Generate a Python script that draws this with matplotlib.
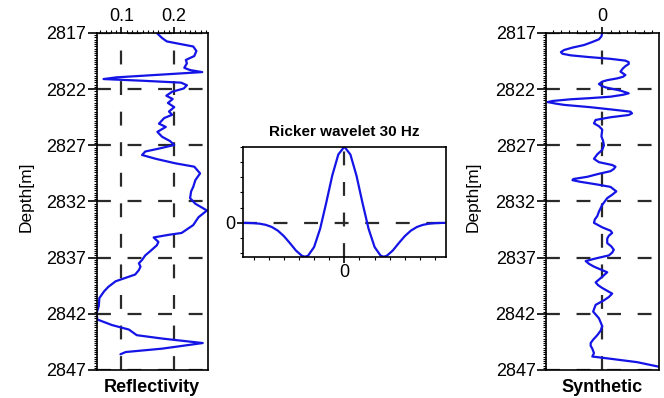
import matplotlib
matplotlib.use("Agg")
import matplotlib.pyplot as plt
from matplotlib.ticker import MultipleLocator, FixedLocator

plt.rcParams['font.family'] = ['Liberation Sans', 'DejaVu Sans']
plt.rcParams['lines.scale_dashes'] = False

# reflectivity log (depth [m], value)
refl_depth = [2817.0, 2817.45, 2817.75, 2817.95, 2818.2, 2818.6, 2819.05, 2819.4, 2819.7, 2820.1,
              2820.3, 2820.48, 2820.7, 2820.95, 2821.1, 2821.25, 2821.42, 2821.65, 2821.94, 2822.23,
              2822.58, 2822.88, 2823.23, 2823.6, 2823.99, 2824.28, 2824.57, 2825.07, 2825.36, 2825.8,
              2826.24, 2826.62, 2826.97, 2827.3, 2827.55, 2827.86, 2828.2, 2828.6, 2828.9, 2829.5,
              2830.1, 2830.7, 2831.1, 2831.7, 2832.2, 2832.8, 2833.4, 2834.1, 2834.8, 2834.97,
              2835.2, 2835.6, 2835.9, 2836.4, 2836.8, 2837.2, 2837.5, 2837.8, 2838.1, 2838.5,
              2839.1, 2839.6, 2840.0, 2840.6, 2841.3, 2841.9, 2842.5, 2843.0, 2843.4, 2843.9,
              2844.2, 2844.6, 2845.1, 2845.4, 2845.6]
refl_value = [0.167, 0.177, 0.186, 0.208, 0.236, 0.242, 0.238, 0.222, 0.224, 0.219,
              0.230, 0.253, 0.177, 0.090, 0.066, 0.140, 0.213, 0.224, 0.218, 0.196,
              0.185, 0.197, 0.188, 0.200, 0.190, 0.196, 0.181, 0.171, 0.184, 0.168,
              0.177, 0.192, 0.200, 0.170, 0.145, 0.139, 0.165, 0.202, 0.238, 0.249,
              0.240, 0.236, 0.232, 0.230, 0.240, 0.262, 0.246, 0.236, 0.214, 0.189,
              0.161, 0.170, 0.167, 0.155, 0.145, 0.139, 0.133, 0.136, 0.133, 0.126,
              0.089, 0.075, 0.067, 0.058, 0.057, 0.053, 0.054, 0.082, 0.114, 0.129,
              0.177, 0.254, 0.177, 0.108, 0.098]

# synthetic trace (depth [m], amplitude)
synt_depth = [2817.0, 2817.3, 2817.56, 2817.8, 2818.07, 2818.3, 2818.51, 2818.7, 2818.85, 2818.99,
              2819.15, 2819.3, 2819.46, 2819.6, 2819.76, 2819.95, 2820.15, 2820.44, 2820.74, 2820.9,
              2821.04, 2821.2, 2821.33, 2821.54, 2821.7, 2821.84, 2822.13, 2822.37, 2822.5, 2822.67,
              2822.8, 2822.9, 2823.05, 2823.15, 2823.3, 2823.4, 2823.6, 2823.8, 2824.0, 2824.15,
              2824.3, 2824.5, 2824.74, 2825.04, 2825.3, 2825.6, 2826.2, 2826.6, 2827.0, 2827.4,
              2827.8, 2828.2, 2828.5, 2828.75, 2828.9, 2829.1, 2829.3, 2829.55, 2829.8, 2830.0,
              2830.1, 2830.24, 2830.5, 2830.7, 2831.1, 2831.4, 2831.7, 2832.3, 2832.9, 2833.3,
              2833.6, 2833.9, 2834.1, 2834.3, 2834.6, 2834.8, 2835.05, 2835.3, 2835.7, 2836.0,
              2836.3, 2836.55, 2836.8, 2837.07, 2837.3, 2837.55, 2837.8, 2838.3, 2838.7, 2839.2,
              2839.45, 2839.7, 2840.2, 2840.5, 2840.8, 2841.2, 2841.8, 2842.4, 2843.1, 2843.5,
              2843.9, 2844.3, 2844.6, 2844.85, 2845.1, 2845.5, 2845.8, 2846.0, 2846.3, 2846.7,
              2847.0]
synt_value = [0.000, -0.001, -0.004, -0.012, -0.022, -0.036, -0.046, -0.050, -0.048, -0.038,
              -0.015, 0.010, 0.028, 0.032, 0.032, 0.028, 0.025, 0.022, 0.028, 0.025,
              0.018, 0.006, 0.000, -0.004, -0.001, 0.004, 0.022, 0.032, 0.025, 0.010,
              -0.015, -0.038, -0.060, -0.066, -0.055, -0.046, -0.015, 0.010, 0.034, 0.036,
              0.032, 0.010, -0.008, -0.010, -0.004, 0.000, -0.001, 0.001, 0.002, 0.000,
              -0.006, -0.010, -0.004, 0.012, 0.016, 0.014, 0.010, -0.005, -0.018, -0.035,
              -0.036, -0.027, -0.005, 0.010, 0.017, 0.012, 0.006, 0.000, -0.004, -0.006,
              -0.009, -0.010, -0.005, 0.000, 0.010, 0.012, 0.008, 0.006, 0.006, 0.011,
              0.014, 0.012, 0.008, -0.008, -0.020, -0.016, -0.010, 0.006, 0.000, -0.008,
              -0.005, 0.000, 0.012, 0.008, 0.002, -0.008, -0.011, -0.004, 0.000, -0.002,
              -0.006, -0.011, -0.014, -0.014, -0.012, -0.010, -0.012, 0.010, 0.042, 0.068,
              0.075]

# ricker wavelet 30 Hz (time [s], amplitude)
wav_time = [-0.034, -0.032, -0.030, -0.028, -0.026, -0.024, -0.022, -0.020, -0.018, -0.016,
            -0.014, -0.013, -0.012, -0.010, -0.008, -0.006, -0.004, -0.002, 0.0,
            0.002, 0.004, 0.006, 0.008, 0.010, 0.012, 0.013, 0.014, 0.016, 0.018,
            0.020, 0.022, 0.024, 0.026, 0.028, 0.030, 0.032, 0.034]
wav_amp = [-0.001, -0.002, -0.005, -0.012, -0.027, -0.055, -0.103, -0.175, -0.267, -0.365,
           -0.435, -0.446, -0.433, -0.319, -0.078, 0.261, 0.621, 0.897, 1.0,
           0.897, 0.621, 0.261, -0.078, -0.319, -0.433, -0.446, -0.435, -0.365, -0.267,
           -0.175, -0.103, -0.055, -0.027, -0.012, -0.005, -0.002, -0.001]

W, H = 664, 398
fig = plt.figure(figsize=(W / 100, H / 100), dpi=100)

curve_kw = dict(color='#1414e6', lw=1.6, solid_joinstyle='round', solid_capstyle='round')
grid_kw = dict(color='#2a2a2a', lw=1.6, ls=(0, (10, 12)))
depth_ticks = list(range(2817, 2848, 5))


def style_log(ax):
    ax.set_ylim(2847, 2817)
    ax.yaxis.set_major_locator(FixedLocator(depth_ticks))
    ax.yaxis.set_minor_locator(MultipleLocator(0.2))
    ax.xaxis.tick_top()
    ax.tick_params(axis='y', which='major', direction='out', length=6.5, width=1.2,
                   labelsize=13, pad=1, right=False)
    ax.tick_params(axis='y', which='minor', direction='out', length=2.5, width=0.8, right=False)
    ax.tick_params(axis='x', which='major', direction='out', length=4, width=1.2,
                   labelsize=13, pad=2, bottom=False)
    ax.tick_params(axis='x', which='minor', direction='out', length=2.5, width=0.8, bottom=False)
    ax.grid(True, which='major', **grid_kw)
    for s in ax.spines.values():
        s.set_linewidth(1.2)


# reflectivity
ax1 = fig.add_axes([96.7 / W, 1 - 370 / H, 111.3 / W, 337 / H])
ax1.plot(refl_value, refl_depth, **curve_kw)
ax1.set_xlim(0.053, 0.264)
ax1.xaxis.set_minor_locator(MultipleLocator(0.01))
style_log(ax1)
ax1.set_xticks([0.1, 0.2], ['0.1', '0.2'])

# synthetic
ax3 = fig.add_axes([546 / W, 1 - 370 / H, 112.5 / W, 337 / H])
ax3.plot(synt_value, synt_depth, **curve_kw)
ax3.set_xlim(-0.068, 0.068)
ax3.xaxis.set_minor_locator(MultipleLocator(0.01))
style_log(ax3)
ax3.set_xticks([0], ['0'])

# wavelet
ax2 = fig.add_axes([242.7 / W, 1 - 256.7 / H, 203.3 / W, 110 / H])
ax2.plot(wav_time, wav_amp, **curve_kw)
ax2.set_xlim(-0.0336, 0.0336)
ax2.set_ylim(-0.446, 1.0)
ax2.set_xticks([0], ['0'])
ax2.set_yticks([0], ['0'])
ax2.xaxis.set_minor_locator(MultipleLocator(0.005))
ax2.yaxis.set_minor_locator(MultipleLocator(0.2))
ax2.tick_params(which='major', direction='out', length=4.5, width=1.2, labelsize=13, pad=1,
                top=False, right=False)
ax2.tick_params(which='minor', direction='out', length=2.5, width=0.8, top=False, right=False)
ax2.grid(True, which='major', **grid_kw)
for s in ax2.spines.values():
    s.set_linewidth(1.2)
ax2.set_title('Ricker wavelet 30 Hz', fontsize=11, fontweight='bold', pad=8)

# labels
fig.text(25.7 / W, 1 - 196.5 / H, 'Depth[m]', rotation=90, ha='center', va='center', fontsize=12.5)
fig.text(473 / W, 1 - 196.5 / H, 'Depth[m]', rotation=90, ha='center', va='center', fontsize=12.5)
fig.text(152.3 / W, 1 - 388 / H, 'Reflectivity', ha='center', va='center', fontsize=13,
         fontweight='bold')
fig.text(602.3 / W, 1 - 388 / H, 'Synthetic', ha='center', va='center', fontsize=13,
         fontweight='bold')

fig.savefig('out.png', dpi=100)
